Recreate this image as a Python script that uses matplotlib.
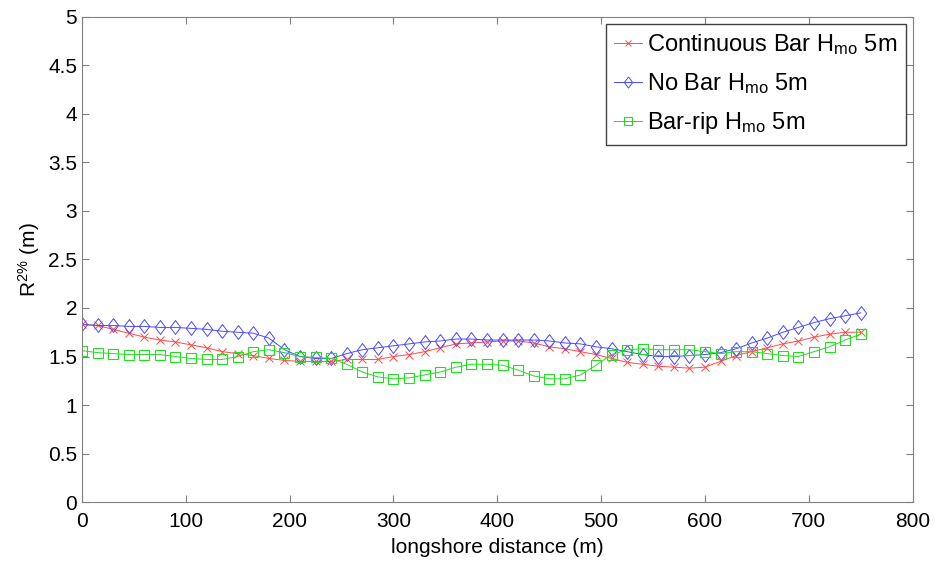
import numpy as np
import matplotlib
matplotlib.use('Agg')
from matplotlib import pyplot as plt

plt.rcParams['font.family'] = ['Liberation Sans', 'DejaVu Sans']
plt.rcParams['mathtext.fontset'] = 'custom'
plt.rcParams['mathtext.rm'] = 'Liberation Sans'
plt.rcParams['mathtext.it'] = 'Liberation Sans'

# longshore positions (m), every 15 m
distance = np.arange(0, 751, 15)

# R2% (m)
continuous_bar = [1.83, 1.82, 1.78, 1.74, 1.70, 1.67, 1.65, 1.62, 1.59, 1.55,
                  1.53, 1.51, 1.48, 1.46, 1.45, 1.45, 1.45, 1.47, 1.47, 1.47,
                  1.50, 1.52, 1.55, 1.59, 1.63, 1.64, 1.65, 1.66, 1.66, 1.64,
                  1.60, 1.58, 1.55, 1.52, 1.48, 1.44, 1.42, 1.40, 1.39, 1.38,
                  1.39, 1.45, 1.51, 1.55, 1.59, 1.63, 1.66, 1.70, 1.73, 1.75, 1.75]
no_bar = [1.83, 1.82, 1.82, 1.81, 1.81, 1.80, 1.80, 1.79, 1.78, 1.76,
          1.75, 1.74, 1.69, 1.57, 1.50, 1.48, 1.48, 1.53, 1.57, 1.59,
          1.61, 1.63, 1.65, 1.66, 1.68, 1.68, 1.67, 1.67, 1.67, 1.67,
          1.66, 1.64, 1.63, 1.60, 1.58, 1.55, 1.52, 1.50, 1.50, 1.51,
          1.52, 1.54, 1.58, 1.64, 1.69, 1.75, 1.80, 1.85, 1.89, 1.92, 1.95]
bar_rip = [1.56, 1.54, 1.53, 1.52, 1.52, 1.52, 1.50, 1.48, 1.47, 1.47,
           1.50, 1.55, 1.57, 1.54, 1.50, 1.49, 1.48, 1.42, 1.34, 1.29,
           1.27, 1.28, 1.31, 1.34, 1.39, 1.42, 1.42, 1.41, 1.36, 1.30,
           1.27, 1.27, 1.31, 1.41, 1.52, 1.57, 1.58, 1.57, 1.57, 1.57,
           1.55, 1.53, 1.55, 1.55, 1.53, 1.51, 1.50, 1.55, 1.60, 1.67, 1.73]

labels = ['Continuous Bar H$_{\\mathrm{mo}}$ 5m',
          'No Bar H$_{\\mathrm{mo}}$ 5m',
          'Bar-rip H$_{\\mathrm{mo}}$ 5m']

# matlab style diamond, a bit taller than wide
diamond = [(0, 1), (0.75, 0), (0, -1), (-0.75, 0), (0, 1)]

fig = plt.figure(figsize=(9.38, 5.61), dpi=100)
ax = fig.add_axes([0.0874, 0.105, 0.8856, 0.865])

ax.plot(distance, continuous_bar, color='#ff4a4a', lw=0.7, marker='x',
        markersize=6, mew=0.7, label=labels[0])
ax.plot(distance, no_bar, color='#4a4aff', lw=0.7, marker=diamond,
        markersize=10, mew=0.7, mfc='none', label=labels[1])
ax.plot(distance, bar_rip, color='#22dd22', lw=0.7, marker='s',
        markersize=7.5, mew=0.8, mfc='none', label=labels[2])

ax.set_xlim(0, 800)
ax.set_ylim(0, 5)
ax.set_xticks(np.arange(0, 801, 100))
ax.set_yticks(np.arange(0, 5.01, 0.5))
ax.set_yticklabels(['0', '0.5', '1', '1.5', '2', '2.5', '3', '3.5', '4', '4.5', '5'])
ax.tick_params(direction='in', top=True, right=True, labelsize=15,
               color='#808080', length=5)
ax.tick_params(axis='x', pad=7)
for s in ax.spines.values():
    s.set_color('#808080')

ax.set_xlabel('longshore distance (m)', fontsize=15, labelpad=5)
ax.set_ylabel('R$^{2\\%}$ (m)', fontsize=15, labelpad=4)

leg = ax.legend(loc='upper right', fontsize=17, fancybox=False,
                edgecolor='#404040', framealpha=1, borderaxespad=0.3,
                handlelength=1.2, handletextpad=0.2, labelspacing=0.6,
                borderpad=0.35, markerscale=0.8)
leg.get_frame().set_linewidth(1.0)

plt.savefig('out.png', dpi=100)
